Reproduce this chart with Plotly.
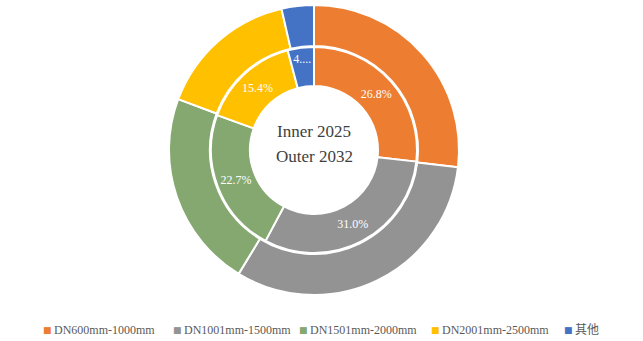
import plotly.graph_objects as go

categories = ["DN600mm-1000mm", "DN1001mm-1500mm", "DN1501mm-2000mm", "DN2001mm-2500mm", "其他"]
inner_2025 = [26.8, 31.0, 22.7, 15.4, 4.1]
outer_2032 = [26.9, 31.8, 22.0, 15.7, 3.6]
colors = ["#ED7D31", "#939393", "#84A870", "#FFC000", "#4472C4"]
center_lines = ["Inner 2025", "Outer 2032"]

inner_text = [f"{v:.1f}%" for v in inner_2025]
inner_text[-1] = inner_text[-1][:1] + "...."

W, H = 643, 341
mt, mb = 5, 46
ph = H - mt - mb
cx = 314
cy_px = 150
R_out = 145
R_in = 103

def py(px):
    return 1 - (px - mt) / ph

fig = go.Figure()
fig.add_trace(go.Pie(
    labels=categories, values=outer_2032, sort=False, direction="clockwise", rotation=0,
    hole=104 / R_out, textinfo="none", hoverinfo="label+percent",
    marker=dict(colors=colors, line=dict(color="white", width=2)),
    domain=dict(x=[(cx - R_out) / W, (cx + R_out) / W], y=[0, 1]),
))
yc = py(cy_px)
fig.add_trace(go.Pie(
    labels=categories, values=inner_2025, sort=False, direction="clockwise", rotation=0,
    hole=64 / R_in, text=inner_text, textinfo="text", textposition="inside",
    insidetextorientation="horizontal",
    textfont=dict(family="Liberation Serif", size=12, color="white"),
    marker=dict(colors=colors, line=dict(color="white", width=2)),
    domain=dict(x=[(cx - R_in) / W, (cx + R_in) / W], y=[yc - R_in / ph, yc + R_in / ph]),
))
for line, ypx in zip(center_lines, [131, 156]):
    fig.add_annotation(
        text=line, x=cx / W, y=py(ypx), xref="paper", yref="paper",
        showarrow=False, yanchor="middle",
        font=dict(family="Liberation Serif", size=17, color="#404040"),
    )

# legend drawn as text items (marker glyph + label)
legend_marker_x = [47, 177, 303, 435, 568]
legend_y = 330
for name, col, mx in zip(categories, colors, legend_marker_x):
    fig.add_annotation(
        text="■", x=mx / W, y=py(legend_y), xref="paper", yref="paper",
        showarrow=False, xanchor="center", yanchor="middle",
        font=dict(family="DejaVu Sans", size=9, color=col),
    )
    fig.add_annotation(
        text=name, x=(mx + 5) / W, y=py(legend_y), xref="paper", yref="paper",
        showarrow=False, xanchor="left", yanchor="middle",
        font=dict(family="Liberation Serif, Noto Sans CJK SC", size=12, color="#595959"),
    )

fig.update_layout(
    width=W, height=H, margin=dict(l=0, r=0, t=mt, b=mb, autoexpand=False),
    paper_bgcolor="white", plot_bgcolor="white", showlegend=False,
)
fig.write_html("out.html")
